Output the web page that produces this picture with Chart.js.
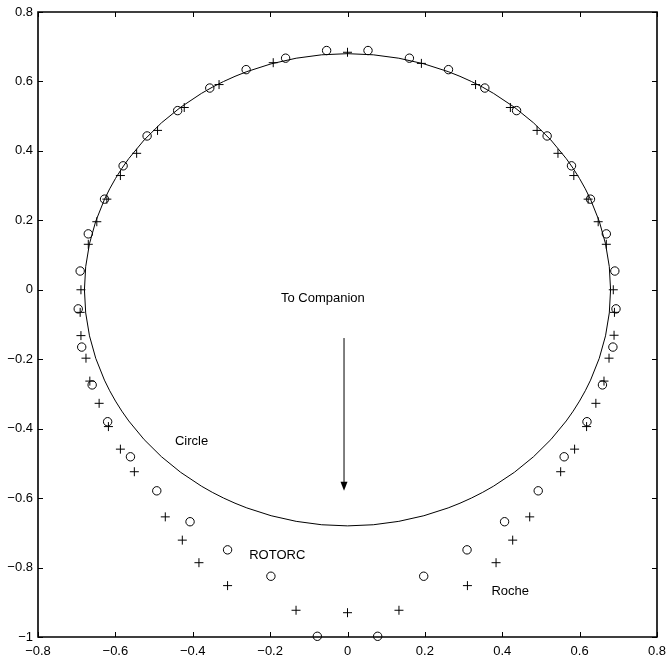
<!DOCTYPE html>
<html>
<head>
<meta charset="utf-8">
<script src="https://cdn.jsdelivr.net/npm/chart.js@4/dist/chart.umd.min.js"></script>
<style>
  body { margin: 0; background: #fff; }
  #wrap { width: 666px; height: 662px; }
</style>
</head>
<body>
<div id="wrap"><canvas id="ctx" width="666" height="662"></canvas></div>
<script>
// ROTORC points (o)
let rotorc_x = [0.053, 0.160, 0.261, 0.355, 0.437, 0.516, 0.579, 0.628, 0.669, 0.691,
    0.694, 0.686, 0.659, 0.619, 0.560, 0.493, 0.406, 0.309, 0.197, 0.078,
    -0.078, -0.198, -0.310, -0.407, -0.493, -0.561, -0.620, -0.660, -0.687, -0.696,
    -0.691, -0.670, -0.628, -0.580, -0.518, -0.439, -0.356, -0.262, -0.160, -0.054];
let rotorc_y = [0.689, 0.667, 0.634, 0.581, 0.516, 0.443, 0.357, 0.261, 0.161, 0.054,
    -0.055, -0.165, -0.274, -0.380, -0.481, -0.579, -0.668, -0.749, -0.825, -0.998,
    -0.998, -0.825, -0.749, -0.668, -0.579, -0.481, -0.380, -0.274, -0.165, -0.055,
    0.054, 0.161, 0.261, 0.357, 0.443, 0.516, 0.581, 0.634, 0.667, 0.689];

// Roche points (+)
let roche_x = [0, 0.191, 0.331, 0.421, 0.490, 0.544, 0.585, 0.622, 0.648, 0.669,
    0.687, 0.690, 0.689, 0.676, 0.663, 0.642, 0.618, 0.587, 0.551, 0.471,
    0.427, 0.384, 0.310, 0.133, 0,
    -0.133, -0.310, -0.384, -0.427, -0.471,
    -0.551, -0.587, -0.618, -0.642, -0.666, -0.676, -0.689, -0.691, -0.689, -0.670,
    -0.648, -0.622, -0.587, -0.545, -0.491, -0.422, -0.332, -0.192];
let roche_y = [0.684, 0.652, 0.591, 0.525, 0.459, 0.393, 0.329, 0.261, 0.196, 0.131,
    0, -0.065, -0.131, -0.197, -0.263, -0.327, -0.394, -0.459, -0.524, -0.654,
    -0.721, -0.786, -0.852, -0.923, -0.930,
    -0.923, -0.852, -0.786, -0.721, -0.654,
    -0.524, -0.459, -0.394, -0.327, -0.263, -0.197, -0.132, -0.065, 0, 0.131,
    0.196, 0.261, 0.329, 0.393, 0.459, 0.525, 0.591, 0.654];

// reference circle radius
let circle_radius = 0.68;

// axis ticks
let x_ticks = [-0.8, -0.6, -0.4, -0.2, 0, 0.2, 0.4, 0.6, 0.8];
let y_ticks = [-1, -0.8, -0.6, -0.4, -0.2, 0, 0.2, 0.4, 0.6, 0.8];

// text notes: [text, x, y]
let notes = [
    ['To Companion', -0.172, -0.026],
    ['Circle', -0.446, -0.438],
    ['ROTORC', -0.254, -0.765],
    ['Roche', 0.372, -0.870]
];
// arrow: x, start y, tip y
let arrow_x = -0.009;
let arrow_from = -0.139;
let arrow_to = -0.579;

function toPoints(xs, ys) {
    return xs.map((x, i) => ({ x: x, y: ys[i] }));
}

function fmt(v) {
    let s = String(Math.round(v * 10) / 10);
    return s.replace('-', '\u2212');
}

Chart.defaults.font.family = '"Liberation Sans", Arial, Helvetica, sans-serif';
Chart.defaults.font.size = 13;
Chart.defaults.color = '#000';

// box, inward ticks, circle, arrow and notes
let extras = {
    id: 'extras',
    afterDraw(chart) {
        let c = chart.ctx;
        let xs = chart.scales.x, ys = chart.scales.y;
        let left = xs.left, right = xs.right, top = ys.top, bottom = ys.bottom;
        let tick_len = 5;
        c.save();
        c.strokeStyle = '#000000';
        c.fillStyle = '#000000';
        c.lineWidth = 1;

        // reference circle
        let cx = xs.getPixelForValue(0), cy = ys.getPixelForValue(0);
        let rx = xs.getPixelForValue(circle_radius) - cx;
        let ry = cy - ys.getPixelForValue(circle_radius);
        c.beginPath();
        c.ellipse(cx, cy, rx, ry, 0, 0, Math.PI * 2);
        c.stroke();

        // ticks on all four sides
        c.beginPath();
        x_ticks.forEach(v => {
            let px = Math.round(xs.getPixelForValue(v)) + 0.5;
            c.moveTo(px, bottom); c.lineTo(px, bottom - tick_len);
            c.moveTo(px, top); c.lineTo(px, top + tick_len);
        });
        y_ticks.forEach(v => {
            let py = Math.round(ys.getPixelForValue(v)) + 0.5;
            c.moveTo(left, py); c.lineTo(left + tick_len, py);
            c.moveTo(right, py); c.lineTo(right - tick_len, py);
        });
        c.stroke();

        // box
        c.lineWidth = 1.6;
        c.beginPath();
        c.moveTo(left, top);
        c.lineTo(right, top);
        c.lineTo(right, bottom);
        c.lineTo(left, bottom);
        c.closePath();
        c.stroke();

        // arrow
        c.lineWidth = 1;
        let ax = xs.getPixelForValue(arrow_x);
        let ay1 = ys.getPixelForValue(arrow_from);
        let ay2 = ys.getPixelForValue(arrow_to);
        c.beginPath();
        c.moveTo(ax, ay1);
        c.lineTo(ax, ay2 - 8);
        c.stroke();
        c.beginPath();
        c.moveTo(ax, ay2);
        c.lineTo(ax - 3.5, ay2 - 9);
        c.lineTo(ax + 3.5, ay2 - 9);
        c.closePath();
        c.fill();

        // notes
        c.font = '13px "Liberation Sans", Arial, Helvetica, sans-serif';
        c.textAlign = 'left';
        c.textBaseline = 'middle';
        notes.forEach(n => {
            c.fillText(n[0], xs.getPixelForValue(n[1]), ys.getPixelForValue(n[2]));
        });
        c.restore();
    }
};

let config = {
    type: 'scatter',
    data: {
        datasets: [{
            label: 'ROTORC',
            data: toPoints(rotorc_x, rotorc_y),
            pointStyle: 'circle',
            pointRadius: 4.2,
            borderColor: '#000',
            backgroundColor: 'rgba(0,0,0,0)',
            borderWidth: 1,
            clip: false
        }, {
            label: 'Roche',
            data: toPoints(roche_x, roche_y),
            pointStyle: 'cross',
            pointRadius: 4.5,
            borderColor: '#000',
            borderWidth: 1,
            clip: false
        }]
    },
    plugins: [extras],
    options: {
        responsive: false,
        animation: false,
        events: [],
        layout: { padding: { left: 0, right: 9, top: 12, bottom: 0 } },
        plugins: {
            legend: { display: false },
            tooltip: { enabled: false }
        },
        scales: {
            x: {
                type: 'linear',
                min: -0.8,
                max: 0.8,
                grid: { display: false, drawTicks: false },
                border: { display: false },
                afterFit: function (scale) {
                    scale.height = 25;
                    scale.paddingLeft = 0;
                    scale.paddingRight = 0;
                },
                ticks: {
                    stepSize: 0.2,
                    padding: 7,
                    maxRotation: 0,
                    callback: fmt
                }
            },
            y: {
                type: 'linear',
                min: -1,
                max: 0.8,
                grid: { display: false, drawTicks: false },
                border: { display: false },
                afterFit: function (scale) {
                    scale.width = 38;
                    scale.paddingTop = 0;
                    scale.paddingBottom = 0;
                },
                ticks: {
                    stepSize: 0.2,
                    padding: 5,
                    callback: fmt
                }
            }
        }
    }
};

let myCh = new Chart(document.getElementById('ctx'), config);
</script>
</body>
</html>
